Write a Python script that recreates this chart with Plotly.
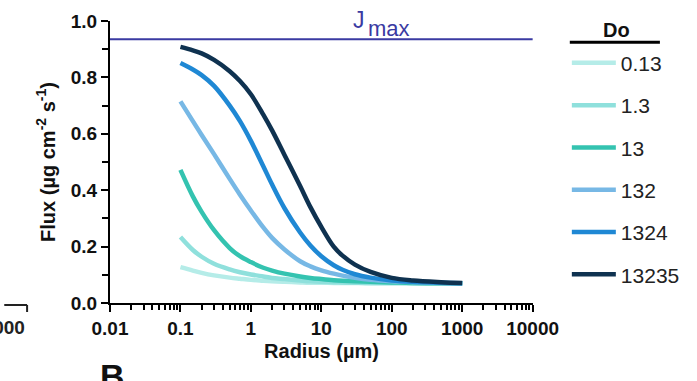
import plotly.graph_objects as go

# Particle radius samples (µm)
radius = [0.1, 0.15, 0.2, 0.3, 0.5, 0.7, 1, 1.5, 2, 3, 5, 7, 10, 15, 20, 30, 50, 100, 200, 500, 1000]

# Flux (µg cm^-2 s^-1) for each Do
do_labels = ["0.13", "1.3", "13", "132", "1324", "13235"]
flux_013 = [0.127, 0.115, 0.107, 0.098, 0.090, 0.086, 0.082, 0.079, 0.077, 0.075, 0.073,
            0.072, 0.072, 0.071, 0.071, 0.071, 0.070, 0.070, 0.070, 0.070, 0.070]
flux_1p3 = [0.234, 0.188, 0.164, 0.139, 0.119, 0.109, 0.101, 0.094, 0.089, 0.085, 0.080,
            0.077, 0.075, 0.074, 0.073, 0.072, 0.071, 0.071, 0.070, 0.070, 0.070]
flux_13 = [0.472, 0.378, 0.323, 0.258, 0.195, 0.166, 0.145, 0.125, 0.115, 0.104, 0.094,
           0.089, 0.085, 0.081, 0.079, 0.077, 0.075, 0.073, 0.071, 0.070, 0.070]
flux_132 = [0.715, 0.645, 0.596, 0.528, 0.440, 0.384, 0.328, 0.268, 0.231, 0.190, 0.148,
            0.130, 0.116, 0.104, 0.097, 0.089, 0.082, 0.077, 0.074, 0.071, 0.070]
flux_1324 = [0.851, 0.828, 0.808, 0.770, 0.700, 0.645, 0.575, 0.485, 0.420, 0.336, 0.250,
             0.204, 0.166, 0.134, 0.118, 0.102, 0.090, 0.080, 0.075, 0.072, 0.070]
flux_13235 = [0.908, 0.896, 0.885, 0.862, 0.822, 0.787, 0.740, 0.668, 0.612, 0.525, 0.415,
              0.340, 0.270, 0.200, 0.168, 0.136, 0.110, 0.089, 0.080, 0.074, 0.071]
flux_series = [flux_013, flux_1p3, flux_13, flux_132, flux_1324, flux_13235]
colors = ["#b5ece8", "#8fe0dc", "#34c3b0", "#77b8e5", "#1f88d4", "#0f3250"]

j_max = 0.935
x_span = [0.01, 10000]
x_tick_vals = [0.01, 0.1, 1, 10, 100, 1000, 10000]
x_tick_text = ["0.01", "0.1", "1", "10", "100", "1000", "10000"]
x_minor_vals = [m * 10 ** e for e in range(-2, 4) for m in range(2, 10)]
y_tick_vals = [0, 0.2, 0.4, 0.6, 0.8, 1.0]

font_family = "Liberation Sans, Arial, sans-serif"
jmax_color = "#3a3aa2"

fig = go.Figure()

# J_max reference level
fig.add_trace(go.Scatter(
    x=x_span, y=[j_max, j_max], mode="lines",
    line=dict(color=jmax_color, width=2), showlegend=False, hoverinfo="skip",
))

for label, ys, col in zip(do_labels, flux_series, colors):
    fig.add_trace(go.Scatter(
        x=radius, y=ys, mode="lines", name=label,
        line=dict(color=col, width=4.5, shape="spline", smoothing=1.0),
        legendgroup=label,
    ))

# "J" with a large lowered "max"
fig.add_annotation(
    x=1.535, y=1.004, xref="x", yref="paper", text="J", showarrow=False,
    xanchor="center", yanchor="middle",
    font=dict(family=font_family, size=23, color=jmax_color),
)
fig.add_annotation(
    x=1.64, y=0.975, xref="x", yref="paper", text="max", showarrow=False,
    xanchor="left", yanchor="middle",
    font=dict(family=font_family, size=22, color=jmax_color),
)

# edge of the neighbouring panel on the left
fig.add_annotation(
    x=-0.196, y=-0.088, xref="paper", yref="paper", xanchor="right", yanchor="middle",
    text="<b>10000</b>", showarrow=False,
    font=dict(family=font_family, size=19, color="#222"),
)
fig.add_shape(type="line", xref="paper", yref="paper",
              x0=-0.25, x1=-0.196, y0=-0.007, y1=-0.007,
              line=dict(color="#222", width=2))
fig.add_shape(type="line", xref="paper", yref="paper",
              x0=-0.196, x1=-0.196, y0=-0.007, y1=-0.032,
              line=dict(color="#222", width=2))
# next panel letter
fig.add_annotation(
    x=0.005, y=0, xref="paper", yref="paper", xanchor="center", yanchor="top",
    text="<b>B</b>", showarrow=False, yshift=-52,
    font=dict(family=font_family, size=34, color="#111"),
)

# legend heading "Do" with its underline
fig.add_annotation(
    x=1.198, y=0.968, xref="paper", yref="paper", xanchor="center", yanchor="middle",
    text="<b>Do</b>", showarrow=False,
    font=dict(family=font_family, size=20, color="#111"),
)
fig.add_shape(
    type="line", xref="paper", yref="paper",
    x0=1.087, x1=1.30, y0=0.925, y1=0.925,
    line=dict(color="black", width=3),
)

axis_common = dict(
    showline=True, linecolor="black", linewidth=2,
    ticks="outside", ticklen=7, tickwidth=2, tickcolor="black",
    showgrid=False, zeroline=False, mirror=False,
    tickfont=dict(family=font_family, size=19, color="#111"),
)

fig.update_layout(
    width=697, height=381,
    margin=dict(l=110, r=164, t=21, b=78),
    paper_bgcolor="white", plot_bgcolor="white",
    font=dict(family=font_family, color="#111"),
    xaxis=dict(
        type="log", range=[-2, 4.005],
        tickvals=x_tick_vals, ticktext=[f"<b>{t}</b>" for t in x_tick_text],
        minor=dict(tickvals=x_minor_vals, ticks="outside", ticklen=5,
                   tickwidth=1.5, tickcolor="black"),
        title=dict(text="<b>Radius (µm)</b>", font=dict(family=font_family, size=20),
                   standoff=6),
        **axis_common,
    ),
    yaxis=dict(
        range=[0, 1.0], tickvals=y_tick_vals,
        ticktext=[f"<b>{v:.1f}</b>" for v in y_tick_vals],
        minor=dict(dtick=0.1, ticks="outside", ticklen=6, tickwidth=2, tickcolor="black"),
        title=dict(text="<b>Flux (µg cm<sup>-2</sup> s<sup>-1</sup>)</b>",
                   font=dict(family=font_family, size=20), standoff=10),
        **axis_common,
    ),
    legend=dict(
        x=1.08, xanchor="left", y=0.923, yanchor="top",
        font=dict(family=font_family, size=21, color="#222"),
        tracegroupgap=12, itemwidth=44, bgcolor="rgba(0,0,0,0)",
        maxheight=380,
    ),
)

fig.write_html("out.html")
